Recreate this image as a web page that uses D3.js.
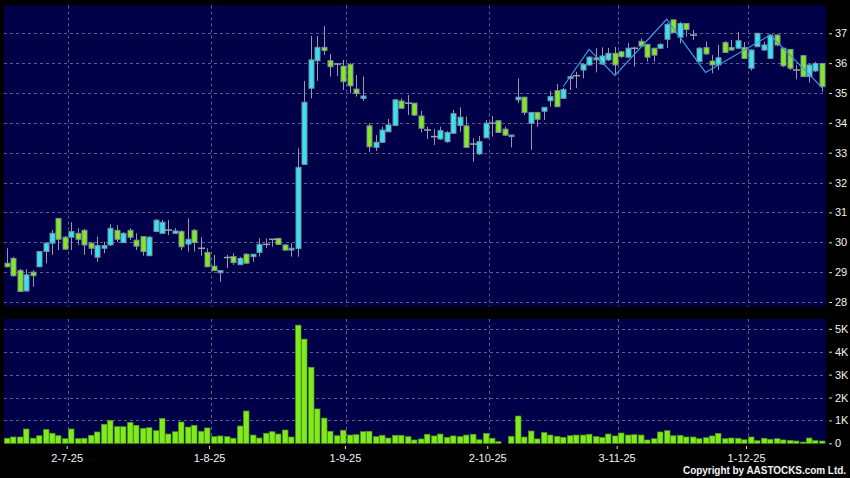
<!DOCTYPE html>
<html><head><meta charset="utf-8">
<script src="https://cdn.jsdelivr.net/npm/d3@7"></script>
<style>html,body{margin:0;padding:0;background:#000;}svg{display:block;}</style>
</head><body>
<svg id="c" width="850" height="478"></svg>
<script>
const dates = [
"2025-06-17","2025-06-18","2025-06-19","2025-06-20","2025-06-23","2025-06-24","2025-06-25","2025-06-26","2025-06-27","2025-06-30",
"2025-07-02","2025-07-03","2025-07-04","2025-07-07","2025-07-08","2025-07-09","2025-07-10","2025-07-11","2025-07-14","2025-07-15",
"2025-07-16","2025-07-17","2025-07-18","2025-07-21","2025-07-22","2025-07-23","2025-07-24","2025-07-25","2025-07-28","2025-07-29",
"2025-07-30","2025-07-31","2025-08-01","2025-08-04","2025-08-05","2025-08-06","2025-08-07","2025-08-08","2025-08-11","2025-08-12",
"2025-08-13","2025-08-14","2025-08-15","2025-08-18","2025-08-19","2025-08-20","2025-08-21","2025-08-22","2025-08-25","2025-08-26",
"2025-08-27","2025-08-28","2025-08-29","2025-09-01","2025-09-02","2025-09-03","2025-09-04","2025-09-05","2025-09-08","2025-09-09",
"2025-09-10","2025-09-11","2025-09-12","2025-09-15","2025-09-16","2025-09-17","2025-09-18","2025-09-19","2025-09-22","2025-09-23",
"2025-09-24","2025-09-25","2025-09-26","2025-09-29","2025-09-30","2025-10-02","2025-10-03","2025-10-06","2025-10-08","2025-10-09",
"2025-10-10","2025-10-13","2025-10-14","2025-10-15","2025-10-16","2025-10-17","2025-10-20","2025-10-21","2025-10-22","2025-10-23",
"2025-10-24","2025-10-27","2025-10-28","2025-10-30","2025-10-31","2025-11-03","2025-11-04","2025-11-05","2025-11-06","2025-11-07",
"2025-11-10","2025-11-11","2025-11-12","2025-11-13","2025-11-14","2025-11-17","2025-11-18","2025-11-19","2025-11-20","2025-11-21",
"2025-11-24","2025-11-25","2025-11-26","2025-11-27","2025-11-28","2025-12-01","2025-12-02","2025-12-03","2025-12-04","2025-12-05",
"2025-12-08","2025-12-09","2025-12-10","2025-12-11","2025-12-12","2025-12-15","2025-12-16"
];
const open = [
29.30,29.46,29.06,28.37,29.00,29.18,29.69,29.97,30.80,30.17,
30.17,30.30,30.40,29.97,29.50,29.80,29.91,30.40,29.99,30.40,
30.07,30.19,29.55,30.36,30.30,30.41,30.30,30.36,29.94,30.40,
29.80,29.66,29.20,28.98,29.49,29.52,29.25,29.60,29.52,29.66,
29.93,30.10,30.13,29.91,29.74,29.79,32.61,35.16,36.08,36.53,
36.08,35.97,35.90,35.96,35.13,34.82,33.90,33.18,33.35,33.70,
33.91,34.73,34.66,34.66,34.23,33.76,33.54,33.46,33.37,33.65,
33.91,33.90,33.29,32.96,33.50,33.99,34.07,33.79,33.54,34.77,
34.86,33.99,34.35,34.39,34.74,35.08,34.82,35.49,35.58,35.77,
35.94,36.18,35.97,36.11,36.33,36.38,36.20,36.50,36.73,36.63,
36.50,36.50,36.80,37.45,36.87,37.33,36.94,36.05,36.52,36.07,
35.94,36.69,36.52,36.50,36.52,35.83,36.55,36.44,36.16,36.94,
36.50,36.46,35.77,36.25,35.55,35.74,35.99
];
const high = [
29.80,29.51,29.11,29.10,29.07,29.71,30.01,30.41,30.81,30.21,
30.67,30.47,30.45,30.01,30.19,30.02,30.60,30.58,30.34,30.47,
30.30,30.21,30.21,30.78,30.75,30.75,30.47,30.41,30.80,30.45,
30.17,29.80,29.58,29.07,29.58,29.63,29.51,29.64,29.61,30.13,
30.13,30.11,30.14,29.94,29.97,33.15,35.40,36.91,36.91,37.24,
36.30,36.00,36.11,36.00,35.60,35.55,33.99,33.59,33.87,34.13,
34.80,34.82,34.93,34.67,34.40,33.87,33.79,33.87,33.73,34.43,
34.52,34.21,33.48,33.56,34.10,34.23,34.10,33.87,33.60,35.49,
34.87,34.36,34.36,34.53,35.07,35.30,35.17,35.57,35.71,36.00,
36.24,36.50,36.53,36.51,36.54,36.41,36.67,36.55,36.83,36.64,
36.51,36.67,37.34,37.47,37.38,37.34,37.11,36.54,36.72,36.27,
36.61,36.74,36.78,37.05,36.71,36.47,37.01,36.72,36.98,36.98,
36.51,36.47,35.94,36.27,35.97,36.04,36.00
];
const low = [
29.16,28.84,28.34,28.34,28.51,29.17,29.30,29.58,29.74,29.74,
29.74,29.91,29.58,29.58,29.35,29.63,29.88,30.01,29.98,30.08,
29.74,29.55,29.54,30.34,30.28,30.24,30.28,29.74,29.69,29.69,
29.55,29.17,29.04,28.68,29.14,29.24,29.24,29.27,29.35,29.52,
29.80,29.85,29.91,29.71,29.52,29.52,32.59,34.82,35.41,36.27,
35.55,35.57,35.10,34.99,34.88,34.73,33.03,33.06,33.33,33.69,
33.90,34.47,34.26,34.23,33.68,33.46,33.26,33.43,33.33,33.63,
33.70,33.16,32.70,32.92,33.49,33.54,33.66,33.56,33.18,34.66,
34.26,33.09,33.87,34.10,34.54,34.53,34.80,35.10,35.16,35.49,
35.90,35.69,35.94,36.07,35.60,36.17,36.17,35.88,36.54,36.05,
36.05,36.47,36.50,37.01,36.66,36.89,36.78,36.04,36.27,35.66,
35.77,36.34,36.41,36.47,36.14,35.75,36.54,36.41,36.14,36.57,
35.87,35.77,35.46,35.54,35.35,35.70,35.04
];
const close = [
29.18,28.88,28.35,28.91,28.88,29.69,29.97,30.30,30.10,29.77,
30.36,30.10,29.91,29.80,29.89,29.89,30.47,30.10,30.30,30.17,
29.87,29.69,30.17,30.74,30.67,30.41,30.38,29.85,30.10,29.99,
29.80,29.18,29.05,29.05,29.49,29.32,29.46,29.30,29.60,29.93,
29.93,30.10,29.93,29.74,29.80,32.51,34.69,36.11,36.53,36.42,
35.88,35.97,35.38,35.24,34.98,34.90,33.20,33.35,33.76,33.93,
34.77,34.49,34.66,34.26,33.82,33.76,33.54,33.74,33.68,34.31,
34.19,33.18,33.29,33.37,33.99,33.99,33.68,33.59,33.59,34.86,
34.35,34.35,34.12,34.52,34.88,34.54,35.12,35.55,35.58,35.96,
36.20,36.11,36.24,36.33,35.94,36.22,36.50,36.50,36.57,36.20,
36.27,36.63,37.30,37.02,37.33,37.13,36.94,36.50,36.31,35.94,
36.18,36.36,36.44,36.75,36.16,36.44,37.00,36.61,36.94,36.61,
35.91,35.83,35.77,35.55,35.94,35.99,35.21
];
const volume = [
220,275,275,625,220,330,610,440,330,200,
625,200,220,350,495,830,1005,725,725,915,
785,655,680,550,1090,405,505,930,710,785,
525,670,290,320,290,220,755,1410,360,230,
440,505,405,580,275,5160,4550,3320,1500,1100,
525,330,570,360,375,505,525,290,350,230,
350,350,290,145,190,395,320,405,260,320,
290,360,395,155,435,220,70,0,305,1190,
275,535,190,465,360,305,260,330,360,360,
395,290,260,405,320,450,360,375,360,145,
200,495,550,330,350,275,275,200,245,320,
435,200,230,220,155,275,115,220,175,200,
145,130,100,55,230,115,100
];
const zigzagDates = ["2025-10-20","2025-10-24","2025-10-31","2025-11-12","2025-11-20","2025-12-04","2025-12-16"];
const zigzagValues = [35.21,36.46,35.59,37.47,35.69,36.94,35.19];
const priceTicks = [28,29,30,31,32,33,34,35,36,37];
const volumeTicks = [0,1000,2000,3000,4000,5000];
const dateTicks = ["2025-07-02","2025-08-01","2025-09-01","2025-10-02","2025-11-03","2025-12-01"];

const W = 850, H = 478;
const svg = d3.select("#c");
svg.append("rect").attr("width", W).attr("height", H).attr("fill", "#000");

const L = 4, R = 826;
const mainTop = 5.5, mainBot = 306.5;
const volTop = 319, volBot = 443.5;
const NAVY = "#000048", GRID = "#5d5d92", CYAN = "#35e4f0", GREEN = "#80ea1e", TXT = "#f2f2f2";

const x = d3.scaleBand().domain(dates).range([3.5, 825.2]).padding(0);
const bw = x.bandwidth();
const cx = d => x(d) + bw / 2;
const xEdge = d3.scaleOrdinal().domain(dates).range(dates.map(d => x(d) - 1.5));
const y = d3.scaleLinear().domain([28, 37]).range([302, 33.3]);
const yv = d3.scaleLinear().domain([0, 5000]).range([443.3, 328.8]);
const fmtDate = d3.timeFormat("%-d-%-m-%y");
const parse = d3.timeParse("%Y-%m-%d");

// panels
svg.append("rect").attr("x", L).attr("y", mainTop).attr("width", R - L).attr("height", mainBot - mainTop).attr("fill", NAVY);
svg.append("rect").attr("x", L).attr("y", volTop).attr("width", R - L).attr("height", volBot - volTop).attr("fill", NAVY);

const grid = svg.append("g").attr("stroke", GRID).attr("stroke-width", 1).attr("stroke-dasharray", "3,3").attr("fill", "none");
grid.selectAll(".hp").data(priceTicks).join("line")
  .attr("x1", L).attr("x2", R).attr("y1", d => Math.round(y(d)) + 0.5).attr("y2", d => Math.round(y(d)) + 0.5);
grid.selectAll(".hv").data(volumeTicks.filter(v => v > 0)).join("line").attr("class","hv")
  .attr("x1", L).attr("x2", R).attr("y1", d => Math.round(yv(d)) + 0.5).attr("y2", d => Math.round(yv(d)) + 0.5);
dateTicks.forEach(d => {
  const xx = Math.round(x(d)) + 0.5;
  grid.append("line").attr("x1", xx).attr("x2", xx).attr("y1", mainTop).attr("y2", mainBot);
  grid.append("line").attr("x1", xx).attr("x2", xx).attr("y1", volTop).attr("y2", volBot);
});

// candles
const idx = d3.range(dates.length);
const cg = svg.append("g");
cg.selectAll(".wick").data(idx).join("line")
  .attr("x1", i => Math.round(cx(dates[i])) + 0.5).attr("x2", i => Math.round(cx(dates[i])) + 0.5)
  .attr("y1", i => y(high[i])).attr("y2", i => y(low[i]))
  .attr("stroke", "#9a9aa6").attr("stroke-width", 1);
cg.selectAll(".body").data(idx.filter(i => open[i] !== close[i])).join("rect")
  .attr("x", i => Math.round(cx(dates[i])) - 2)
  .attr("width", 5)
  .attr("y", i => y(Math.max(open[i], close[i])))
  .attr("height", i => Math.max(1, Math.abs(y(open[i]) - y(close[i]))))
  .attr("fill", i => close[i] > open[i] ? CYAN : GREEN)
  .attr("stroke", "#7d8ea0").attr("stroke-width", 1);
cg.selectAll(".doji").data(idx.filter(i => open[i] === close[i])).join("line")
  .attr("x1", i => Math.round(cx(dates[i])) - 3).attr("x2", i => Math.round(cx(dates[i])) + 4)
  .attr("y1", i => y(open[i])).attr("y2", i => y(open[i]))
  .attr("stroke", "#a0a0a8").attr("stroke-width", 1.5);

// zigzag
svg.append("path")
  .datum(zigzagDates.map((d, k) => [cx(d), y(zigzagValues[k])]))
  .attr("d", d3.line())
  .attr("fill", "none").attr("stroke", "#3d9be0").attr("stroke-width", 1.2);

// volume
svg.append("g").selectAll("rect").data(idx.filter(i => volume[i] > 0)).join("rect")
  .attr("x", i => Math.round(cx(dates[i])) - 2.5)
  .attr("width", 5.5)
  .attr("y", i => yv(volume[i]))
  .attr("height", i => yv(0) - yv(volume[i]))
  .attr("fill", GREEN).attr("stroke", "#4f9a14").attr("stroke-width", 0.7);

// axes
function styleAxis(g) {
  g.select(".domain").remove();
  g.selectAll(".tick line").attr("stroke", "#d8d8d8");
  g.selectAll(".tick text").attr("fill", TXT).style("font-family", "Arial, 'Liberation Sans', sans-serif").style("font-size", "11px");
}
svg.append("g").attr("transform", "translate(829,0)")
  .call(d3.axisRight(y).tickValues(priceTicks).tickSize(3).tickPadding(3).tickFormat(d3.format("d")))
  .call(styleAxis);
svg.append("g").attr("transform", "translate(829,0)")
  .call(d3.axisRight(yv).tickValues(volumeTicks).tickSize(3).tickPadding(3).tickFormat(v => v === 0 ? "0" : (v / 1000) + "K"))
  .call(styleAxis);
svg.append("g").attr("transform", "translate(0,446)")
  .call(d3.axisBottom(xEdge).tickValues(dateTicks).tickSize(3).tickPadding(5).tickFormat(d => fmtDate(parse(d))))
  .call(styleAxis);

svg.append("text").attr("x", 846).attr("y", 474).attr("text-anchor", "end")
  .attr("textLength", 163).attr("lengthAdjust", "spacing")
  .attr("fill", TXT).style("font-family", "Arial, 'Liberation Sans', sans-serif")
  .style("font-size", "10px").style("font-weight", "bold")
  .text("Copyright by AASTOCKS.com Ltd.");
</script>
</body></html>
